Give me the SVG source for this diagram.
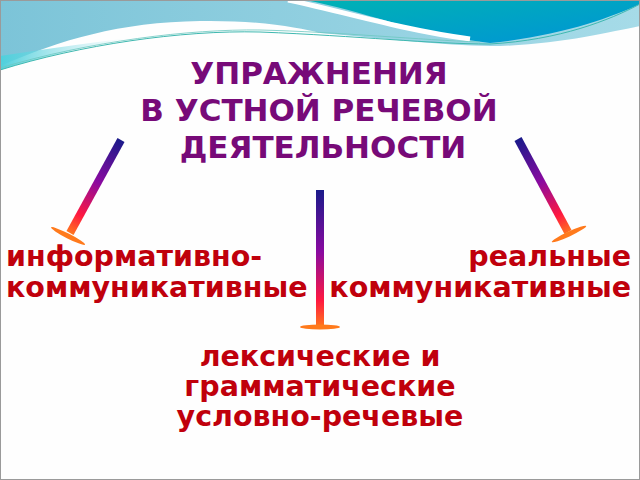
<svg xmlns="http://www.w3.org/2000/svg" width="640" height="480" viewBox="0 0 640 480">
<defs>
<style>
.title{font-family:"DejaVu Sans","Liberation Sans",sans-serif;font-weight:bold;font-size:31px;fill:#770a78;text-anchor:middle}
.lbl{font-family:"DejaVu Sans","Liberation Sans",sans-serif;font-weight:bold;font-size:28.5px;fill:#c0000c}
.bar{stroke-width:8;fill:none;stroke-linecap:butt}
.tee{fill:#ff7a1c}
</style>
<linearGradient id="lb" x1="0" y1="0" x2="1" y2="0">
<stop offset="0" stop-color="#7cc4d8"/>
<stop offset="1" stop-color="#a6dbe8"/>
</linearGradient>
<linearGradient id="teal" x1="0" y1="0" x2="1" y2="1">
<stop offset="0" stop-color="#00b2b4"/>
<stop offset="1" stop-color="#0094d6"/>
</linearGradient>
<linearGradient id="cy" x1="0" y1="0" x2="1" y2="0">
<stop offset="0" stop-color="#4fd0dc"/>
<stop offset="1" stop-color="#a8e4ec" stop-opacity="0"/>
</linearGradient>
<linearGradient id="gL" gradientUnits="userSpaceOnUse" x1="121" y1="140" x2="70" y2="234">
<stop offset="0" stop-color="#1a1a8a"/>
<stop offset="0.45" stop-color="#8a0aa0"/>
<stop offset="0.8" stop-color="#ff1840"/>
<stop offset="1" stop-color="#ff7a1c"/>
</linearGradient>
<linearGradient id="gC" gradientUnits="userSpaceOnUse" x1="320" y1="190" x2="320" y2="328">
<stop offset="0" stop-color="#1a1a8a"/>
<stop offset="0.45" stop-color="#8a0aa0"/>
<stop offset="0.8" stop-color="#ff1840"/>
<stop offset="1" stop-color="#ff7a1c"/>
</linearGradient>
<linearGradient id="gR" gradientUnits="userSpaceOnUse" x1="518" y1="139" x2="569" y2="234">
<stop offset="0" stop-color="#1a1a8a"/>
<stop offset="0.45" stop-color="#8a0aa0"/>
<stop offset="0.8" stop-color="#ff1840"/>
<stop offset="1" stop-color="#ff7a1c"/>
</linearGradient>
</defs>
<rect x="0" y="0" width="640" height="480" fill="#fefefe"/>
<g id="header">
<path d="M0,66 C60,40 120,22 200,21 C260,20 300,28 320,33 C400,40 450,46 500,46 C560,44 610,32 640,26 V0 H0 Z" fill="url(#lb)"/>
<path d="M0,56 C40,50 80,44 130,38 C80,48 40,58 0,70 Z" fill="url(#cy)"/>
<path d="M305,0 C360,10 420,35 490,43 C560,36 610,18 640,4 V0 Z" fill="url(#teal)"/>
<path d="M288,0 C330,8 400,30 470,39" stroke="#ffffff" stroke-width="5" fill="none"/>
<path d="M0,70 C80,45 180,30 260,32 C360,36 430,44 490,44 C560,40 610,20 640,4" stroke="#3fb8b0" stroke-width="1" fill="none"/>
<path d="M0,68 C90,41 190,29 260,30 C340,32 420,40 480,42" stroke="#6cc8c0" stroke-width="0.8" fill="none"/>
</g>
<g id="title">
<text class="title" x="319" y="84">УПРАЖНЕНИЯ</text>
<text class="title" x="319" y="121">В УСТНОЙ РЕЧЕВОЙ</text>
<text class="title" x="323" y="158">ДЕЯТЕЛЬНОСТИ</text>
</g>
<g id="connectors">
<line class="bar" x1="121" y1="140" x2="70" y2="233" stroke="url(#gL)"/>
<ellipse class="tee" cx="68" cy="236" rx="19" ry="2.4" transform="rotate(27 68 236)"/>
<line class="bar" x1="320" y1="190" x2="320" y2="326" stroke="url(#gC)"/>
<ellipse class="tee" cx="320" cy="327" rx="20" ry="2.4"/>
<line class="bar" x1="518" y1="139" x2="568" y2="232" stroke="url(#gR)"/>
<ellipse class="tee" cx="569" cy="234" rx="19" ry="2.4" transform="rotate(-25 569 234)"/>
</g>
<g id="node-left">
<text class="lbl" x="6" y="266">информативно-</text>
<text class="lbl" x="6" y="297">коммуникативные</text>
</g>
<g id="node-right">
<text class="lbl" x="631" y="266" text-anchor="end">реальные</text>
<text class="lbl" x="631" y="297" text-anchor="end">коммуникативные</text>
</g>
<g id="node-bottom">
<text class="lbl" x="320" y="366" text-anchor="middle">лексические и</text>
<text class="lbl" x="320" y="396" text-anchor="middle">грамматические</text>
<text class="lbl" x="320" y="426" text-anchor="middle">условно-речевые</text>
</g>
<rect x="0.5" y="0.5" width="639" height="479" fill="none" stroke="#9a9a9a" stroke-width="1"/>
</svg>
